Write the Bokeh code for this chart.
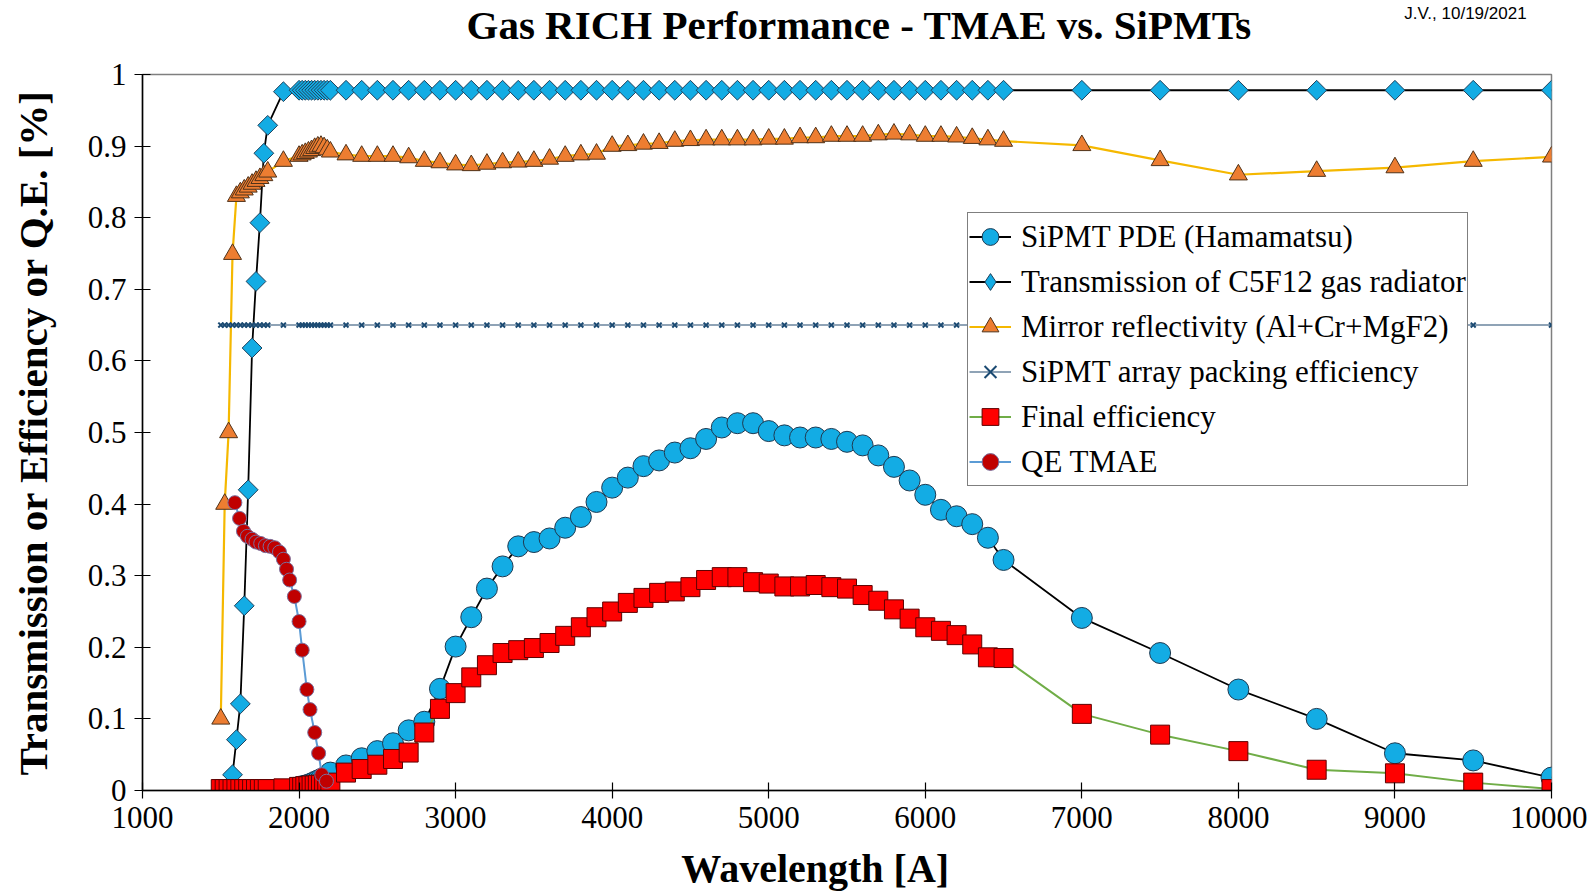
from bokeh.plotting import figure
from bokeh.models import FixedTicker, Legend, LegendItem, Label, Range1d
from bokeh.embed import file_html
from bokeh.resources import INLINE
import numpy as np

# ---------------- data ----------------
wl_pde = [1900, 2000, 2020, 2040, 2060, 2080, 2100, 2120, 2140, 2160, 2180, 2200,
          2300, 2400, 2500, 2600, 2700, 2800, 2900, 3000, 3100, 3200, 3300, 3400, 3500,
          3600, 3700, 3800, 3900, 4000, 4100, 4200, 4300, 4400, 4500, 4600, 4700, 4800,
          4900, 5000, 5100, 5200, 5300, 5400, 5500, 5600, 5700, 5800, 5900, 6000, 6100,
          6200, 6300, 6400, 6500, 7000, 7500, 8000, 8500, 9000, 9500, 10000]
pde = [0.0, 0.005, 0.006, 0.007, 0.008, 0.010, 0.012, 0.014, 0.016, 0.018, 0.020, 0.025,
       0.035, 0.045, 0.055, 0.066, 0.084, 0.096, 0.142, 0.201, 0.242, 0.282, 0.313, 0.341, 0.347,
       0.352, 0.367, 0.382, 0.403, 0.423, 0.437, 0.453, 0.461, 0.472, 0.478, 0.491, 0.507, 0.513,
       0.513, 0.502, 0.496, 0.493, 0.493, 0.491, 0.487, 0.482, 0.468, 0.452, 0.433, 0.413, 0.392,
       0.383, 0.372, 0.353, 0.322, 0.241, 0.192, 0.141, 0.100, 0.052, 0.042, 0.018]

wl_trans = [1550, 1575, 1600, 1625, 1650, 1675, 1700, 1725, 1750, 1775, 1800, 1900,
            2000, 2020, 2040, 2060, 2080, 2100, 2120, 2140, 2160, 2180, 2200,
            2300, 2400, 2500, 2600, 2700, 2800, 2900, 3000, 3100, 3200, 3300, 3400, 3500,
            3600, 3700, 3800, 3900, 4000, 4100, 4200, 4300, 4400, 4500, 4600, 4700, 4800,
            4900, 5000, 5100, 5200, 5300, 5400, 5500, 5600, 5700, 5800, 5900, 6000, 6100,
            6200, 6300, 6400, 6500, 7000, 7500, 8000, 8500, 9000, 9500, 10000]
trans = [0.005, 0.022, 0.071, 0.121, 0.258, 0.420, 0.618, 0.711, 0.793, 0.890, 0.929, 0.976,
         0.978, 0.978, 0.978, 0.978, 0.978, 0.978, 0.978, 0.978, 0.978, 0.978, 0.978,
         0.978, 0.978, 0.978, 0.978, 0.978, 0.978, 0.978, 0.978, 0.978, 0.978, 0.978, 0.978, 0.978,
         0.978, 0.978, 0.978, 0.978, 0.978, 0.978, 0.978, 0.978, 0.978, 0.978, 0.978, 0.978, 0.978,
         0.978, 0.978, 0.978, 0.978, 0.978, 0.978, 0.978, 0.978, 0.978, 0.978, 0.978, 0.978, 0.978,
         0.978, 0.978, 0.978, 0.978, 0.978, 0.978, 0.978, 0.978, 0.978, 0.978, 0.978]

wl_grid = [1500, 1525, 1550, 1575, 1600, 1625, 1650, 1675, 1700, 1725, 1750, 1775, 1800, 1900,
           2000, 2020, 2040, 2060, 2080, 2100, 2120, 2140, 2160, 2180, 2200,
           2300, 2400, 2500, 2600, 2700, 2800, 2900, 3000, 3100, 3200, 3300, 3400, 3500,
           3600, 3700, 3800, 3900, 4000, 4100, 4200, 4300, 4400, 4500, 4600, 4700, 4800,
           4900, 5000, 5100, 5200, 5300, 5400, 5500, 5600, 5700, 5800, 5900, 6000, 6100,
           6200, 6300, 6400, 6500, 7000, 7500, 8000, 8500, 9000, 9500, 10000]
mirror = [0.100, 0.400, 0.500, 0.749, 0.830, 0.835, 0.839, 0.843, 0.847, 0.851, 0.855, 0.859, 0.864, 0.879,
          0.886, 0.888, 0.890, 0.892, 0.894, 0.897, 0.899, 0.900, 0.898, 0.895, 0.892,
          0.888, 0.886, 0.886, 0.886, 0.884, 0.879, 0.877, 0.874, 0.873, 0.875, 0.877, 0.878, 0.879,
          0.882, 0.886, 0.888, 0.889, 0.900, 0.901, 0.903, 0.904, 0.907, 0.908, 0.909, 0.909, 0.909,
          0.909, 0.910, 0.910, 0.912, 0.912, 0.914, 0.914, 0.914, 0.916, 0.917, 0.916, 0.914, 0.914,
          0.913, 0.911, 0.909, 0.907, 0.901, 0.880, 0.860, 0.865, 0.870, 0.879, 0.885]
packing = [0.65, 0.65, 0.65, 0.65, 0.65, 0.65, 0.65, 0.65, 0.65, 0.65, 0.65, 0.65, 0.65, 0.65,
           0.65, 0.65, 0.65, 0.65, 0.65, 0.65, 0.65, 0.65, 0.65, 0.65, 0.65,
           0.65, 0.65, 0.65, 0.65, 0.65, 0.65, 0.65, 0.65, 0.65, 0.65, 0.65, 0.65, 0.65,
           0.65, 0.65, 0.65, 0.65, 0.65, 0.65, 0.65, 0.65, 0.65, 0.65, 0.65, 0.65, 0.65,
           0.65, 0.65, 0.65, 0.65, 0.65, 0.65, 0.65, 0.65, 0.65, 0.65, 0.65, 0.65, 0.65,
           0.65, 0.65, 0.65, 0.65, 0.65, 0.65, 0.65, 0.65, 0.65, 0.65, 0.65]
final = [0.002, 0.002, 0.002, 0.002, 0.002, 0.002, 0.002, 0.002, 0.002, 0.002, 0.002, 0.002, 0.002, 0.003,
         0.005, 0.005, 0.006, 0.006, 0.007, 0.007, 0.008, 0.008, 0.009, 0.010, 0.011,
         0.025, 0.030, 0.036, 0.044, 0.053, 0.081, 0.114, 0.136, 0.158, 0.175, 0.192, 0.196, 0.199,
         0.206, 0.216, 0.228, 0.242, 0.250, 0.262, 0.269, 0.276, 0.278, 0.284, 0.294, 0.298, 0.298,
         0.291, 0.289, 0.285, 0.285, 0.287, 0.284, 0.282, 0.273, 0.265, 0.253, 0.240, 0.228, 0.223,
         0.217, 0.204, 0.186, 0.185, 0.107, 0.078, 0.055, 0.029, 0.024, 0.011, 0.002]

wl_qe = [1590, 1620, 1645, 1670, 1700, 1725, 1755, 1785, 1815, 1845, 1875, 1900,
         1920, 1940, 1970, 2000, 2020, 2050, 2070, 2100, 2125, 2145, 2175]
qe_tmae = [0.402, 0.380, 0.362, 0.355, 0.351, 0.347, 0.345, 0.342, 0.341, 0.339, 0.333, 0.323,
           0.309, 0.294, 0.271, 0.236, 0.196, 0.141, 0.113, 0.081, 0.052, 0.022, 0.013]

x_ticks = [1000, 2000, 3000, 4000, 5000, 6000, 7000, 8000, 9000, 10000]
y_ticks = [0, 0.1, 0.2, 0.3, 0.4, 0.5, 0.6, 0.7, 0.8, 0.9, 1]

labels = ["SiPMT PDE (Hamamatsu)", "Transmission of C5F12 gas radiator",
          "Mirror reflectivity (Al+Cr+MgF2)", "SiPMT array packing efficiency",
          "Final efficiency", "QE TMAE"]
title_text = "Gas RICH Performance - TMAE vs. SiPMTs"
stamp_text = "J.V., 10/19/2021"
x_title = "Wavelength [A]"
y_title = "Transmission or Efficiency or Q.E. [%]"

# ---------------- figure ----------------
SERIF = "Liberation Serif"
p = figure(width=1587, height=894, x_range=Range1d(1000, 10000), y_range=Range1d(0, 1),
           output_backend="svg", toolbar_location=None,
           min_border_left=142, min_border_right=36, min_border_top=74, min_border_bottom=104)

p.xgrid.visible = False
p.ygrid.visible = False
p.outline_line_color = "#7F7F7F"
p.outline_line_width = 1.5
p.background_fill_color = "white"
p.border_fill_color = "white"

for ax in (p.xaxis[0], p.yaxis[0]):
    ax.axis_line_color = "black"
    ax.axis_line_width = 1.5
    ax.major_tick_line_color = "black"
    ax.major_tick_line_width = 1.2
    ax.major_tick_in = 8
    ax.major_tick_out = 8
    ax.minor_tick_line_color = None
    ax.major_label_text_font = SERIF
    ax.major_label_text_font_size = "31px"
    ax.major_label_text_color = "black"
    ax.axis_label_text_font = SERIF
    ax.axis_label_text_font_style = "bold"
    ax.axis_label_text_color = "black"

p.xaxis.ticker = FixedTicker(ticks=x_ticks)
p.yaxis.ticker = FixedTicker(ticks=y_ticks)
p.yaxis.major_label_overrides = {0: "0", 1: "1"}
p.xaxis.major_label_standoff = 8
p.yaxis.major_label_standoff = 8
p.yaxis.axis_label = y_title
p.yaxis.axis_label_text_font_size = "41px"
p.yaxis.axis_label_standoff = 29

# ---------------- series ----------------
BLUE = "#13ACE4"
r_pde_l = p.line(wl_pde, pde, line_color="black", line_width=1.8)
r_pde_m = p.scatter(wl_pde, pde, marker="circle", size=21, fill_color=BLUE,
                    line_color="#1E3A52", line_width=1)

r_tr_l = p.line(wl_trans, trans, line_color="black", line_width=1.8)
# diamond-shaped glyph for the legend entry, drawn at the first data point only
r_tr_leg = p.scatter(wl_trans[:1], trans[:1], marker="diamond", size=10, fill_color=BLUE,
                     line_color="#21425C", line_width=1)
r_tr_m = p.scatter(wl_trans, trans, marker="square", angle=np.pi / 4, size=14,
                   fill_color=BLUE, line_color="#21425C", line_width=1)

r_mi_l = p.line(wl_grid, mirror, line_color="#F5B800", line_width=2.2)
r_mi_m = p.scatter(wl_grid, mirror, marker="triangle", size=18, fill_color="#ED7D31",
                   line_color="#4F3219", line_width=1)

r_pa_l = p.line(wl_grid, packing, line_color="#8FA3B6", line_width=2)
r_pa_m = p.scatter(wl_grid, packing, marker="x", size=7, line_color="#1B4A72", line_width=2)

r_fi_l = p.line(wl_grid, final, line_color="#70AD47", line_width=2)
r_fi_m = p.scatter(wl_grid, final, marker="square", size=19, fill_color="#FF0000",
                   line_color="#5E0000", line_width=1)

r_qe_l = p.line(wl_qe, qe_tmae, line_color="#5B9BD5", line_width=2)
r_qe_m = p.scatter(wl_qe, qe_tmae, marker="circle", size=14, fill_color="#C00000",
                   line_color="#7A6F9C", line_width=1)

legend = Legend(items=[
    LegendItem(label=labels[0], renderers=[r_pde_l, r_pde_m]),
    LegendItem(label=labels[1], renderers=[r_tr_l, r_tr_leg]),
    LegendItem(label=labels[2], renderers=[r_mi_l, r_mi_m]),
    LegendItem(label=labels[3], renderers=[r_pa_l, r_pa_m]),
    LegendItem(label=labels[4], renderers=[r_fi_l, r_fi_m]),
    LegendItem(label=labels[5], renderers=[r_qe_l, r_qe_m]),
], location=(825, 304))
legend.label_text_font = SERIF
legend.label_text_font_size = "31px"
legend.label_text_color = "black"
legend.glyph_width = 42
legend.glyph_height = 45
legend.label_height = 45
legend.label_standoff = 10
legend.padding = 1
legend.spacing = 0
legend.margin = 0
legend.border_line_color = "black"
legend.border_line_width = 1
legend.background_fill_color = "white"
legend.background_fill_alpha = 1.0
p.add_layout(legend, "center")

# title, date stamp and x-axis title live in side panels (not clipped to the frame)
title_lbl = Label(x=5578, y=1.0698, text=title_text, text_font=SERIF, text_font_size="41px",
                  text_font_style="bold", text_align="center", text_baseline="middle",
                  text_color="black")
stamp = Label(x=9060, y=1.0852, text=stamp_text, text_font="Liberation Sans",
              text_font_size="17px", text_baseline="middle", text_color="black")
xlab = Label(x=5297, y=-0.1089, text=x_title, text_font=SERIF, text_font_size="40px",
             text_font_style="bold", text_align="center", text_baseline="middle",
             text_color="black")
p.add_layout(title_lbl, "above")
p.add_layout(stamp, "above")
p.add_layout(xlab, "below")

open("out.html", "w").write(file_html(p, INLINE))
